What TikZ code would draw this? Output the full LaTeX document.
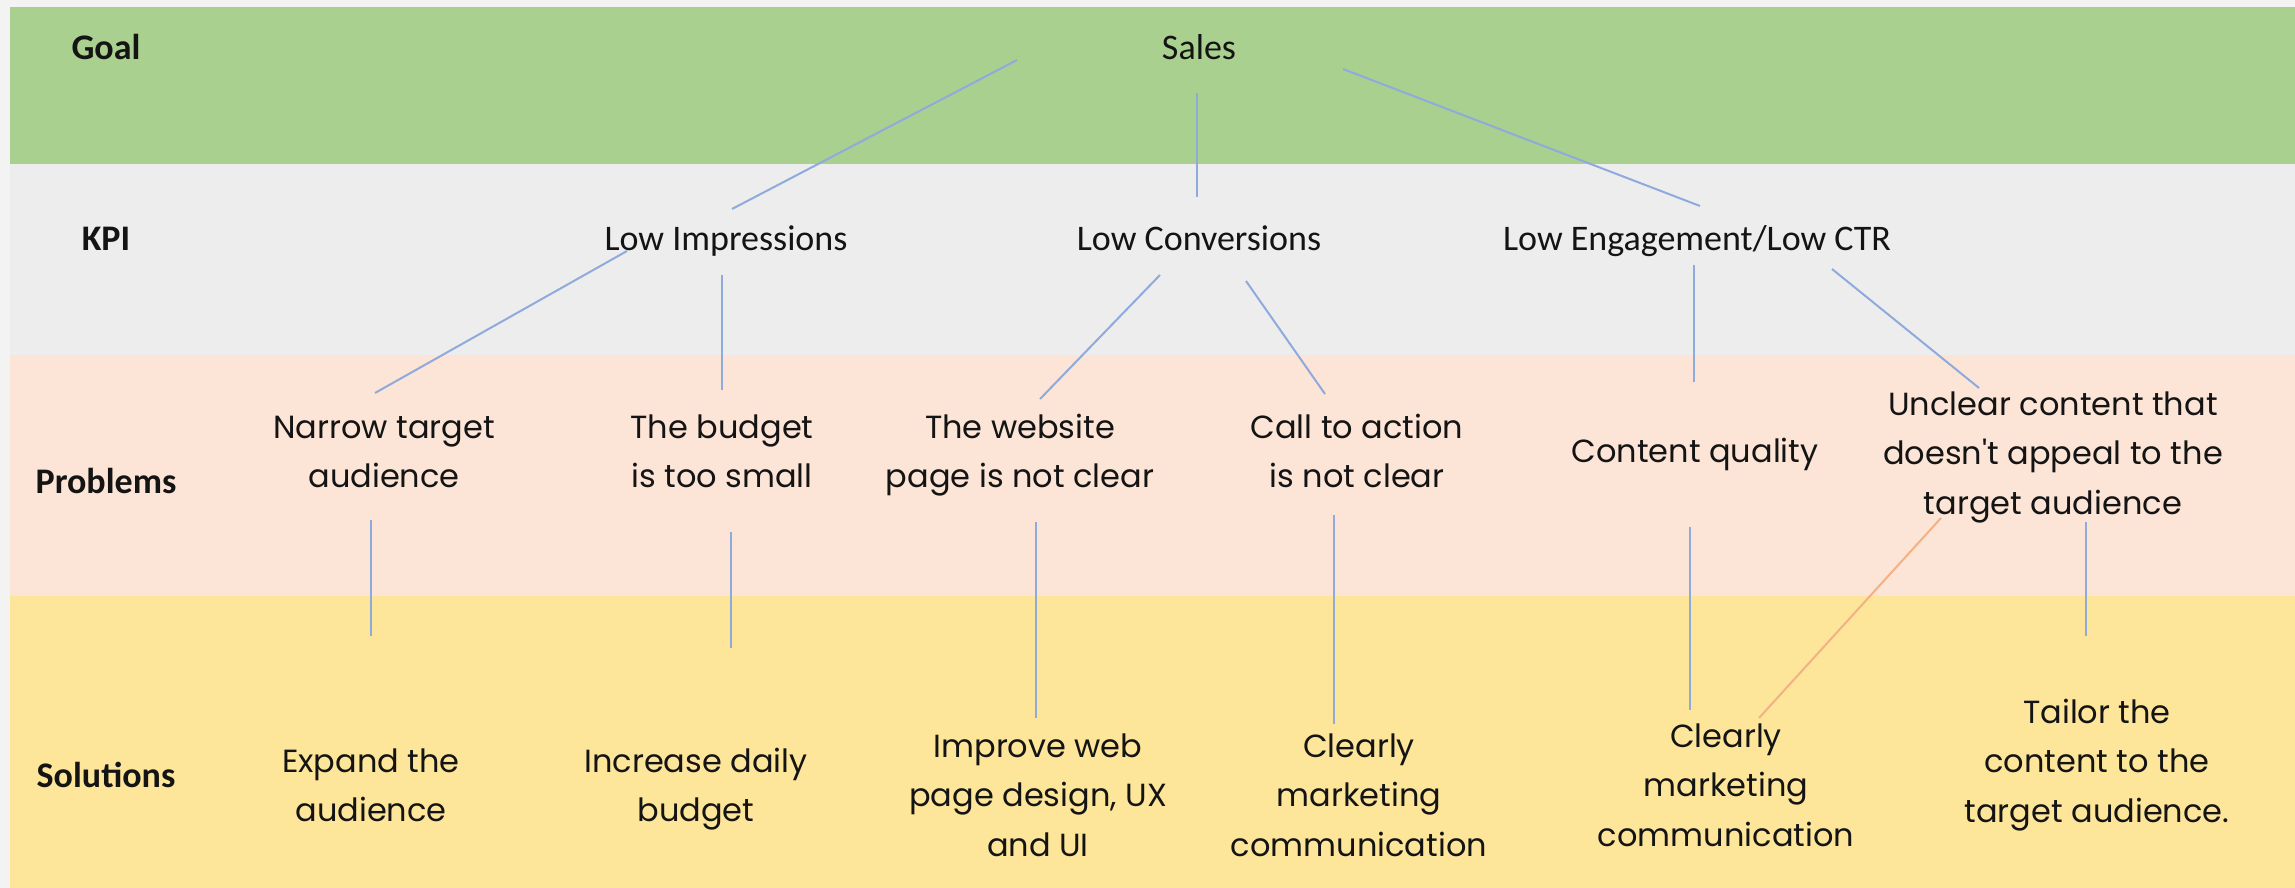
\documentclass[tikz,border=0pt]{standalone}
\usepackage{fontspec}
\setmainfont{Carlito}
\newfontfamily\roundfont{Poppins}

\definecolor{pagebg}{HTML}{F3F3F3}
\definecolor{goalband}{HTML}{A9D08E}
\definecolor{kpiband}{HTML}{EDEDED}
\definecolor{problemband}{HTML}{FCE4D6}
\definecolor{solutionband}{HTML}{FDE59A}
\definecolor{linkblue}{HTML}{8FAADC}
\definecolor{linkorange}{HTML}{F4B183}
\definecolor{ink}{HTML}{141414}

\begin{document}
\begin{tikzpicture}[x=1pt,y=-1pt,
  rowlabel/.style={font=\fontsize{36}{43}\selectfont\bfseries, text=ink, anchor=base, inner sep=0pt},
  kpitext/.style={font=\fontsize{36}{43}\selectfont, text=ink, anchor=base, inner sep=0pt},
  item/.style={font=\roundfont\fontsize{32}{49.5}\selectfont, text=ink, align=center, inner sep=0pt},
  link/.style={draw=linkblue, line width=2pt},
  crosslink/.style={draw=linkorange, line width=2pt}]

\path[use as bounding box] (0,0) rectangle (2295,888);

% background bands
\fill[pagebg] (0,0) rectangle (2295,888);
\fill[goalband] (10,7) rectangle (2295,164);
\fill[kpiband] (10,164) rectangle (2295,355);
\fill[problemband] (10,355) rectangle (2295,596);
\fill[solutionband] (10,596) rectangle (2295,888);

% row labels
\node[rowlabel] (goal) at (106,60) {Goal};
\node[rowlabel] (kpi) at (106,250) {KPI};
\node[rowlabel] (problems) at (106,493) {Problems};
\node[rowlabel] (solutions) at (106,787) {Solutions};

% goal and KPIs
\node[kpitext] (sales) at (1199,60) {Sales};
\node[kpitext] (lowimp) at (726,250) {Low Impressions};
\node[kpitext] (lowconv) at (1199,250) {Low Conversions};
\node[kpitext] (loweng) at (1697,250) {Low Engagement/Low CTR};

% problems
\node[item] (narrow) at (384,453) {\strut Narrow target\\\strut audience};
\node[item] (budget) at (722,453) {\strut The budget\\\strut is too small};
\node[item] (website) at (1020,453) {\strut The website\\\strut page is not clear};
\node[item] (cta) at (1357,453) {\strut Call to action\\\strut is not clear};
\node[item] (quality) at (1695,453) {\strut Content quality};
\node[item] (unclear) at (2053,455) {\strut Unclear content that\\\strut doesn't appeal to the\\\strut target audience};

% solutions
\node[item] (expand) at (371,787) {\strut Expand the\\\strut audience};
\node[item] (increase) at (696,787) {\strut Increase daily\\\strut budget};
\node[item] (improve) at (1038,797) {\strut Improve web\\\strut page design, UX\\\strut and UI};
\node[item] (clearlyA) at (1359,797) {\strut Clearly\\\strut marketing\\\strut communication};
\node[item] (clearlyB) at (1726,787) {\strut Clearly\\\strut marketing\\\strut communication};
\node[item] (tailor) at (2097,763) {\strut Tailor the\\\strut content to the\\\strut target audience.};

% connector end points
\coordinate (sales-l) at (1017,60);
\coordinate (sales-b) at (1197,93);
\coordinate (sales-r) at (1343,69);
\coordinate (lowimp-t) at (732,209);
\coordinate (lowconv-t) at (1197,197);
\coordinate (loweng-t) at (1700,206);
\coordinate (lowimp-l) at (627,251);
\coordinate (lowimp-b) at (722,275);
\coordinate (lowconv-l) at (1160,275);
\coordinate (lowconv-r) at (1246,281);
\coordinate (loweng-b) at (1694,265);
\coordinate (loweng-r) at (1832,269);
\coordinate (narrow-t) at (375,393);
\coordinate (budget-t) at (722,390);
\coordinate (website-t) at (1040,399);
\coordinate (cta-t) at (1325,394);
\coordinate (quality-t) at (1694,382);
\coordinate (unclear-t) at (1979,388);
\coordinate (narrow-b) at (371,520);
\coordinate (budget-b) at (731,532);
\coordinate (website-b) at (1036,522);
\coordinate (cta-b) at (1334,515);
\coordinate (quality-b) at (1690,527);
\coordinate (unclear-b) at (2086,522);
\coordinate (unclear-bl) at (1941,518);
\coordinate (expand-t) at (371,636);
\coordinate (increase-t) at (731,648);
\coordinate (improve-t) at (1036,718);
\coordinate (clearlyA-t) at (1334,724);
\coordinate (clearlyB-t) at (1690,710);
\coordinate (clearlyB-tr) at (1759,718);
\coordinate (tailor-t) at (2086,636);

% goal to KPIs
\draw[link] (sales-l) -- (lowimp-t);
\draw[link] (sales-b) -- (lowconv-t);
\draw[link] (sales-r) -- (loweng-t);

% KPIs to problems
\draw[link] (lowimp-l) -- (narrow-t);
\draw[link] (lowimp-b) -- (budget-t);
\draw[link] (lowconv-l) -- (website-t);
\draw[link] (lowconv-r) -- (cta-t);
\draw[link] (loweng-b) -- (quality-t);
\draw[link] (loweng-r) -- (unclear-t);

% problems to solutions
\draw[link] (narrow-b) -- (expand-t);
\draw[link] (budget-b) -- (increase-t);
\draw[link] (website-b) -- (improve-t);
\draw[link] (cta-b) -- (clearlyA-t);
\draw[link] (quality-b) -- (clearlyB-t);
\draw[link] (unclear-b) -- (tailor-t);
\draw[crosslink] (unclear-bl) -- (clearlyB-tr);

\end{tikzpicture}
\end{document}
